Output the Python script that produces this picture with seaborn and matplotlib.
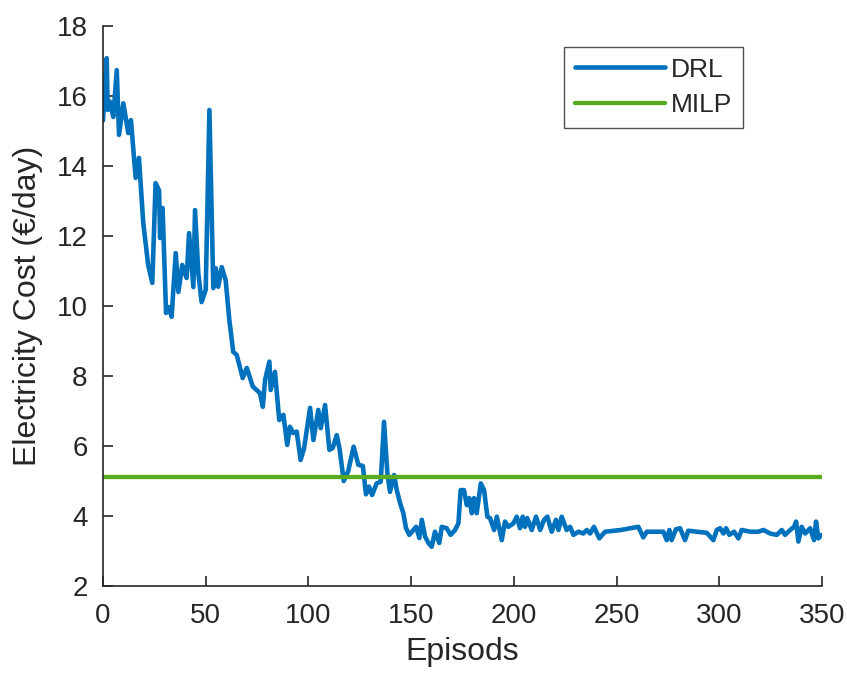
import matplotlib
matplotlib.use("Agg")
import matplotlib.pyplot as plt
import seaborn as sns
import pandas as pd

# ── Datos ────────────────────────────────────────────────────────────────────
episodes = [
    0, 1.8, 2.3, 3.4, 5, 6.7, 7.8, 9.9, 12.3, 13.6, 15.9, 17.5, 19.6, 22, 24,
    25.6, 27.3, 27.8, 29, 30.7, 32, 33.4, 35.4, 36.7, 38.6, 40.7, 41.9, 44,
    44.8, 46.4, 48, 50, 51.8, 53.7, 54.9, 56.1, 57.8, 59.7, 61.5, 63.4, 65.1,
    68, 70, 72.9, 76.4, 77.8, 78.9, 81, 81.6, 83.7, 85.8, 87.8, 89.7, 91,
    92.6, 94.3, 96.2, 97.9, 100.8, 102.4, 104.8, 106, 108.1, 110.2, 111.8,
    113.8, 115.2, 117.2, 119.4, 122, 124.3, 126.5, 128, 129.5, 131, 133.2,
    135.2, 136.8, 138.4, 139.7, 141.7, 143, 144.6, 146.2, 147.5, 149.1,
    151.1, 152.4, 154, 155.2, 156.8, 158.4, 160, 161.6, 163.7, 164.9, 167.3,
    169.2, 171.4, 173, 174.1, 175.7, 177.1, 178.3, 179.5, 180.6, 181.9,
    183.9, 185.5, 187.1, 188.4, 190.4, 191.7, 194.1, 195.7, 197.3, 199.8,
    201.4, 203, 204.3, 205.4, 206.5, 208.7, 210.8, 212.8, 214.7, 216.3,
    218.4, 220.5, 221.7, 223.3, 225.7, 227.4, 229, 231.4, 233.8, 235.5,
    237.1, 239, 241.6, 244.4, 252, 260.6, 263, 264.7, 272.8, 274.4, 275.7,
    276.8, 278.9, 280.9, 283.3, 284.9, 289, 293.9, 297.1, 298.8, 300.4, 302,
    303.3, 304.9, 307.2, 309.3, 310.9, 315, 319, 321.5, 324.7, 328, 330.4,
    332, 334.5, 336.4, 337.4, 338.5, 340.1, 341.8, 344.2, 346.1, 347.1,
    348.2, 349.9,
]
drl_cost = [
    15.3, 17.08, 15.6, 15.84, 15.4, 16.74, 14.89, 15.79, 14.94, 15.31, 13.66,
    14.23, 12.37, 11.17, 10.66, 13.51, 13.3, 11.94, 12.8, 9.8, 9.97, 9.69,
    11.51, 10.4, 11.17, 10.8, 12.08, 10.54, 12.74, 10.94, 10.11, 10.46, 15.6,
    10.51, 11.08, 10.55, 11.11, 10.74, 9.6, 8.69, 8.6, 7.94, 8.23, 7.7, 7.51,
    7.12, 7.89, 8.41, 7.6, 8.12, 6.74, 6.89, 6.03, 6.55, 6.37, 6.41, 5.6,
    5.94, 7.09, 6.17, 7.03, 6.51, 7.17, 5.89, 5.94, 6.31, 5.9, 5.0, 5.29,
    5.98, 5.46, 5.43, 4.62, 4.84, 4.6, 4.93, 4.98, 6.69, 5.23, 4.69, 5.17,
    4.74, 4.37, 4.08, 3.65, 3.46, 3.6, 3.69, 3.37, 3.89, 3.41, 3.23, 3.12,
    3.55, 3.23, 3.69, 3.65, 3.46, 3.6, 3.79, 4.74, 4.74, 4.31, 4.51, 4.08,
    4.51, 4.08, 4.93, 4.74, 3.98, 3.94, 3.6, 3.98, 3.31, 3.84, 3.69, 3.79,
    3.98, 3.65, 3.98, 3.69, 3.94, 3.6, 3.98, 3.6, 3.89, 3.98, 3.55, 3.89,
    3.6, 3.98, 3.6, 3.69, 3.46, 3.55, 3.5, 3.6, 3.5, 3.69, 3.36, 3.55, 3.6,
    3.69, 3.39, 3.55, 3.55, 3.31, 3.6, 3.31, 3.62, 3.65, 3.31, 3.58, 3.55,
    3.52, 3.31, 3.6, 3.65, 3.5, 3.65, 3.46, 3.55, 3.36, 3.6, 3.55, 3.55,
    3.6, 3.5, 3.46, 3.6, 3.46, 3.6, 3.69, 3.84, 3.27, 3.69, 3.5, 3.65, 3.31,
    3.84, 3.36, 3.46,
]
milp_cost = 5.11

x_ticks = [0, 50, 100, 150, 200, 250, 300, 350]
y_ticks = [2, 4, 6, 8, 10, 12, 14, 16, 18]

BLUE = "#0072BD"
GREEN = "#5AAA1E"
INK = "#262626"

# ── Estilo ───────────────────────────────────────────────────────────────────
sns.set_style("ticks")
plt.rcParams["font.family"] = ["Liberation Sans", "DejaVu Sans"]

df = pd.DataFrame({"Episodes": episodes, "Cost": drl_cost})

fig = plt.figure(figsize=(8.47, 6.73), dpi=100)
ax = fig.add_axes([0.1216, 0.1293, 0.8489, 0.8321])

sns.lineplot(data=df, x="Episodes", y="Cost", ax=ax, color=BLUE, lw=3.3,
             sort=False, estimator=None, label="DRL")
ax.axhline(milp_cost, color=GREEN, lw=3.1, label="MILP")

ax.set_xlim(0, 350)
ax.set_ylim(2, 18)
ax.set_xticks(x_ticks)
ax.set_yticks(y_ticks)
ax.tick_params(direction="in", length=7, width=1.2, labelsize=20,
               colors=INK)
ax.tick_params(axis="x", pad=12)
ax.tick_params(axis="y", pad=11)
for side in ("top", "right"):
    ax.spines[side].set_visible(False)
for side in ("left", "bottom"):
    ax.spines[side].set_linewidth(1.2)
    ax.spines[side].set_color(INK)

ax.set_xlabel("Episods", fontsize=23, color=INK, labelpad=6)
ax.set_ylabel("Electricity Cost (€/day)", fontsize=23, color=INK,
              labelpad=10)

leg = ax.legend(loc="upper right", bbox_to_anchor=(0.890, 0.9625),
                borderaxespad=0, fontsize=19, frameon=True, fancybox=False,
                edgecolor=INK, handlelength=3.4, handletextpad=0.25,
                borderpad=0.4, labelspacing=0.45)
leg.get_frame().set_linewidth(1.0)

fig.savefig("out.png", dpi=100)
plt.close(fig)
